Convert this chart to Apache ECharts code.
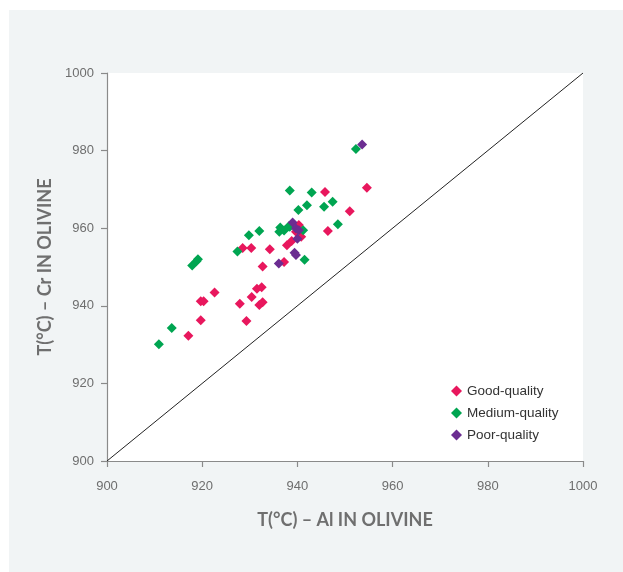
<!DOCTYPE html>
<html>
<head>
<meta charset="utf-8">
<script src="https://cdn.jsdelivr.net/npm/echarts@6/dist/echarts.min.js"></script>
<style>
  html, body { margin: 0; padding: 0; background: #fff; }
  #chart { width: 623px; height: 572px; }
</style>
</head>
<body>
<div id="chart"></div>
<script>
const xTicks = [900, 920, 940, 960, 980, 1000]
const yTicks = [900, 920, 940, 960, 980, 1000]

// [T Al-in-olivine, T Cr-in-olivine]
const goodQuality = [
  [928.5, 954.9], [930.3, 954.9], [934.2, 954.6], [932.7, 950.1], [937.2, 951.3],
  [937.8, 955.6], [938.8, 956.7], [922.6, 943.4], [919.7, 941.2], [920.3, 941.2],
  [927.9, 940.5], [930.4, 942.3], [931.5, 944.4], [932.5, 944.8], [932.0, 940.2],
  [932.7, 940.9], [919.7, 936.3], [929.3, 936.1], [917.1, 932.3], [945.8, 969.3],
  [946.4, 959.3], [940.3, 960.8], [940.8, 957.8], [939.7, 959.1], [954.6, 970.4],
  [951.0, 964.4]
]
const mediumQuality = [
  [938.4, 969.7], [940.2, 964.7], [932.0, 959.3], [929.8, 958.2], [927.4, 954.0],
  [919.1, 952.0], [918.8, 951.5], [917.9, 950.4], [913.6, 934.3], [910.9, 930.1],
  [936.4, 960.2], [937.2, 959.4], [936.2, 959.1], [938.4, 960.4], [938.2, 960.5],
  [943.0, 969.2], [947.4, 966.8], [945.6, 965.5], [942.0, 965.9], [948.5, 961.0],
  [941.2, 959.5], [941.5, 951.9], [952.3, 980.4]
]
const poorQuality = [
  [953.6, 981.6], [939.0, 961.5], [939.7, 959.9], [940.3, 959.5], [940.0, 957.3],
  [939.4, 953.7], [939.7, 953.1], [936.1, 950.9]
]
const equalityLine = [[900, 900], [1000, 1000]]

const chart = echarts.init(document.getElementById('chart'))

const axisCommon = {
  type: 'value',
  min: 900,
  max: 1000,
  interval: 20,
  splitLine: { show: false },
  axisLine: { show: true, lineStyle: { color: '#8a8a8a', width: 1.2 } },
  axisTick: { show: true, length: 6, lineStyle: { color: '#8a8a8a', width: 1.2 } },
  nameLocation: 'middle',
  nameTextStyle: {
    color: '#6f6f6f',
    fontSize: 18,
    fontWeight: 'bold',
    fontFamily: 'Lato, "Open Sans", sans-serif'
  }
}
const labelStyle = {
  color: '#6e6e6e',
  fontSize: 13,
  fontFamily: 'Liberation Sans, Arial, sans-serif',
  formatter: v => String(v)
}

const diamond = (name, color, data) => ({
  name: name,
  type: 'scatter',
  symbol: 'diamond',
  symbolSize: 10,
  itemStyle: { color: color, opacity: 1 },
  data: data,
  z: 3
})

chart.setOption({
  backgroundColor: '#ffffff',
  animation: false,
  graphic: [{
    type: 'rect',
    shape: { x: 9, y: 10, width: 620, height: 570 },
    style: { fill: '#f1f4f5' },
    z: -10,
    silent: true
  }],
  grid: {
    left: 107, top: 73, right: 40, bottom: 111,
    show: true, backgroundColor: '#ffffff', borderWidth: 0
  },
  legend: {
    orient: 'vertical',
    left: 446, top: 379,
    itemGap: 8,
    itemWidth: 11, itemHeight: 11,
    textStyle: { color: '#333', fontSize: 13.5, fontFamily: 'Liberation Sans, Arial, sans-serif' },
    data: [
      { name: 'Good-quality', icon: 'diamond' },
      { name: 'Medium-quality', icon: 'diamond' },
      { name: 'Poor-quality', icon: 'diamond' }
    ]
  },
  xAxis: Object.assign({}, axisCommon, {
    name: 'T(°C) – Al IN OLIVINE',
    nameGap: 50,
    axisLabel: Object.assign({ margin: 19 }, labelStyle)
  }),
  yAxis: Object.assign({}, axisCommon, {
    name: 'T(°C) – Cr IN OLIVINE',
    nameGap: 50,
    axisLabel: Object.assign({ margin: 13 }, labelStyle)
  }),
  series: [
    {
      type: 'line',
      data: equalityLine,
      symbol: 'none',
      lineStyle: { color: '#222', width: 1 },
      silent: true,
      z: 1
    },
    diamond('Good-quality', '#e8175d', goodQuality),
    diamond('Medium-quality', '#00a551', mediumQuality),
    diamond('Poor-quality', '#6b2d91', poorQuality)
  ]
})
</script>
</body>
</html>
